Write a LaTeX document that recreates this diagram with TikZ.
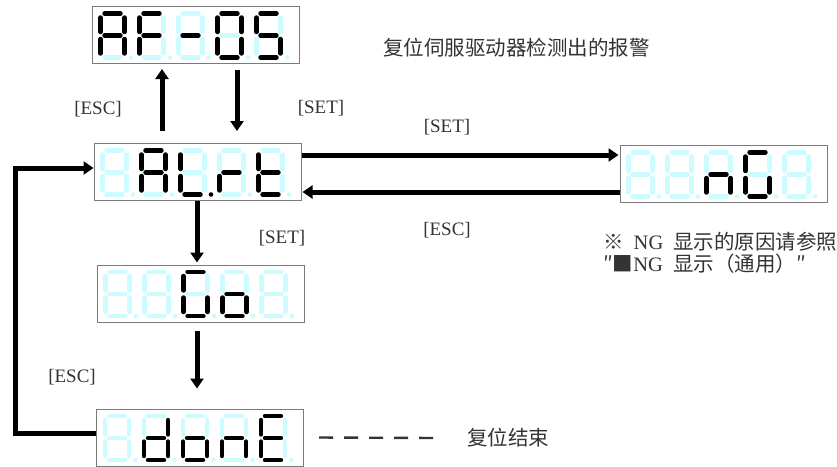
\documentclass[tikz,border=0pt]{standalone}
\usepackage{fontspec}
\setmainfont{Liberation Serif}
\newfontfamily\cjk{Noto Sans CJK SC}
\usetikzlibrary{arrows.meta,positioning,calc}
\definecolor{segcyan}{HTML}{CCFCFF}
\definecolor{boxgray}{HTML}{7A7A7A}
\definecolor{inkgray}{HTML}{333333}
\tikzset{
  >={Triangle[length=10pt,width=13pt]},
  % anzeige
  disp/.style={draw=boxgray,line width=1pt,fill=white,minimum width=207pt,
               minimum height=57pt,inner sep=0pt},
  segoff/.style={draw=segcyan,line width=4.4pt,line cap=round},
  segon/.style={draw=black,line width=4.4pt,line cap=round},
  % pfeile und texte
  flow/.style={->,draw=black,line width=5pt},
  leader/.style={draw=inkgray,line width=2.4pt,dash pattern=on 14pt off 11pt},
  keylbl/.style={font=\fontsize{19}{22}\selectfont,text=inkgray,inner sep=0pt},
  note/.style={font=\fontsize{20.5}{22}\selectfont,text=inkgray,inner sep=0pt,
               align=left},
}
% one digit: #1 x offset, #2 lit segments, #3 colour of the point
\newcommand\segdigit[3]{%
  \begin{scope}[xshift=#1pt]
    \path (4,0) coordinate (a1) (20,0) coordinate (a2)
          (24,4) coordinate (b1) (24,18.5) coordinate (b2)
          (24,25.5) coordinate (c1) (24,40) coordinate (c2)
          (4,44) coordinate (d1) (20,44) coordinate (d2)
          (0,25.5) coordinate (e1) (0,40) coordinate (e2)
          (0,4) coordinate (f1) (0,18.5) coordinate (f2)
          (4,22) coordinate (g1) (20,22) coordinate (g2);
    \foreach \s in {a,b,c,d,e,f,g} \draw[segoff] (\s1) -- (\s2);
    \foreach \s in {#2} \draw[segon] (\s1) -- (\s2);
    \fill[#3] (30.5,44) circle[radius=2.3pt];
  \end{scope}}

\begin{document}
\begin{tikzpicture}[x=1pt,y=-1pt]
  \useasboundingbox (0,0) rectangle (837,466);
  \node[disp] (afbox) at (195.5,35) {};
  \node[disp] (alrt) at (197.5,172) {};
  \node[disp] (ngbox) at (723.5,174) {};
  \node[disp] (gobox) at (200.5,293.5) {};
  \node[disp] (donebox) at (200,437.5) {};

  \begin{scope}[shift={(afbox.north west)},yshift=-7.5pt]
    \segdigit{9}{a,b,c,e,f,g}{segcyan}
    \segdigit{48}{a,e,f,g}{segcyan}
    \segdigit{87}{g}{segcyan}
    \segdigit{126}{a,b,c,d,e,f}{segcyan}
    \segdigit{165}{a,c,d,f,g}{segcyan}
  \end{scope}
  \begin{scope}[shift={(alrt.north west)},yshift=-7.5pt]
    \segdigit{9}{}{segcyan}
    \segdigit{48}{a,b,c,e,f,g}{segcyan}
    \segdigit{87}{d,e,f}{black}
    \segdigit{126}{e,g}{segcyan}
    \segdigit{165}{d,e,f,g}{segcyan}
  \end{scope}
  \begin{scope}[shift={(ngbox.north west)},yshift=-7.5pt]
    \segdigit{9}{}{segcyan}
    \segdigit{48}{}{segcyan}
    \segdigit{87}{c,e,g}{segcyan}
    \segdigit{126}{a,c,d,e,f}{segcyan}
    \segdigit{165}{}{segcyan}
  \end{scope}
  \begin{scope}[shift={(gobox.north west)},yshift=-7.5pt]
    \segdigit{9}{}{segcyan}
    \segdigit{48}{}{segcyan}
    \segdigit{87}{a,c,d,e,f}{segcyan}
    \segdigit{126}{c,d,e,g}{segcyan}
    \segdigit{165}{}{segcyan}
  \end{scope}
  \begin{scope}[shift={(donebox.north west)},yshift=-7.5pt]
    \segdigit{9}{}{segcyan}
    \segdigit{48}{b,c,d,e,g}{segcyan}
    \segdigit{87}{c,d,e,g}{segcyan}
    \segdigit{126}{c,e,g}{segcyan}
    \segdigit{165}{a,d,e,f,g}{segcyan}
  \end{scope}

  \coordinate (upx) at (162,0);
  \coordinate (dnx) at (237,0);
  \coordinate (midx) at (197,0);
  \coordinate (fbx) at (15,0);
  \coordinate (toright) at (0,155);
  \coordinate (toleft) at (0,192);
  \coordinate (fbin) at ([yshift=4pt]alrt.west);
  \coordinate (fbout) at ([yshift=4pt]donebox.west);

  \draw[flow,shorten <=12pt,shorten >=5pt] (alrt.north -| upx) -- (afbox.south -| upx);
  \draw[flow,shorten <=6pt,shorten >=12pt] (afbox.south -| dnx) -- (alrt.north -| dnx);
  \draw[flow,shorten >=1pt] (alrt.east |- toright) -- (ngbox.west |- toright);
  \draw[flow,shorten >=1pt] (ngbox.west |- toleft) -- (alrt.east |- toleft);
  \draw[flow,shorten >=2pt] (alrt.south -| midx) -- (gobox.north -| midx);
  \draw[flow,shorten <=8pt,shorten >=20pt] (gobox.south -| midx) -- (donebox.north -| midx);
  \draw[flow] (fbout) -- (fbout -| fbx) |- (fbin);

  \node[keylbl] (escup) at (98,109) {[ESC]};
  \node[keylbl] (setdn) at (321,108) {[SET]};
  \node[keylbl] (setng) at (447,127) {[SET]};
  \node[keylbl] (escng) at (447,230) {[ESC]};
  \node[keylbl] (setgo) at (282,238) {[SET]};
  \node[keylbl] (escfb) at (72,377) {[ESC]};

  \node[note,anchor=west] (alarmtxt) at (383,48) {\cjk 复位伺服驱动器检测出的报警};
  \node[note,anchor=north west] (ngnote) at (603,232)
    {{\cjk ※}\hspace{10pt}NG\hspace{10pt}{\cjk 显示的原因请参照}\\
     {\cjk ″■}NG\hspace{10pt}{\cjk 显示（通用）″}};
  \node[note,anchor=west] (donetxt) at (467,438) {\cjk 复位结束};
  \draw[leader] ([xshift=15pt]donebox.east) -- ([xshift=-32pt]donetxt.west);
\end{tikzpicture}
\end{document}
